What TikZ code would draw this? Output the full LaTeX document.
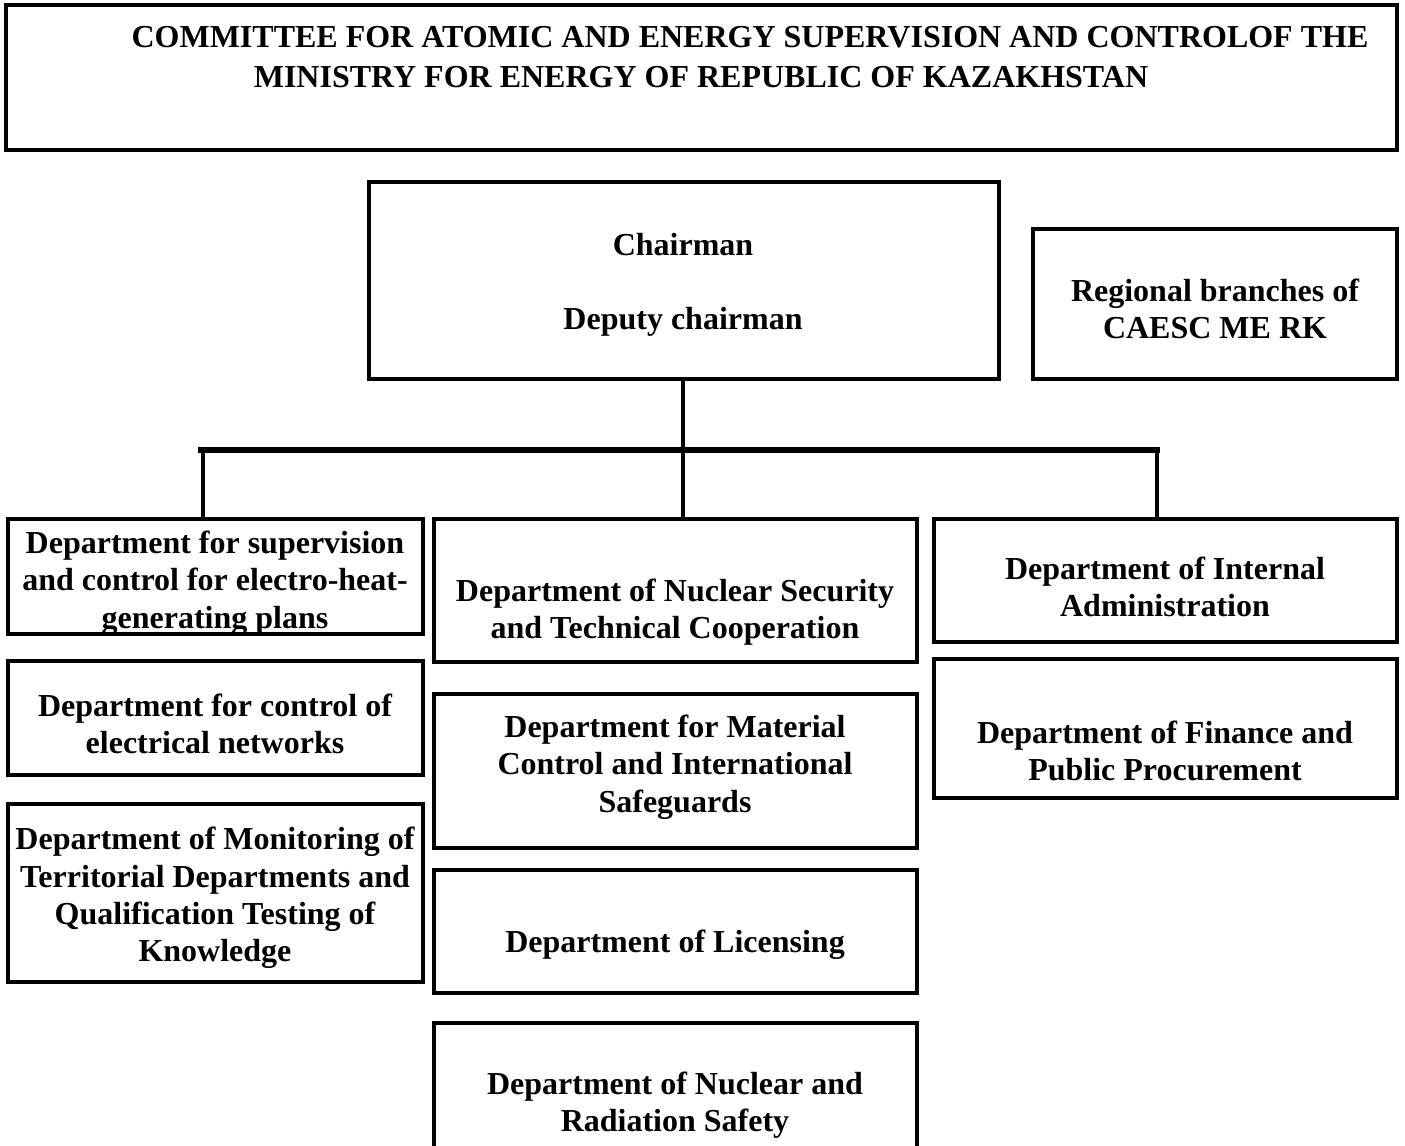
\documentclass[tikz,border=0pt]{standalone}
\usepackage{fontspec}
\setmainfont{Liberation Serif}
\usetikzlibrary{fit}
\begin{document}
\begin{tikzpicture}[x=0.75pt,y=-0.75pt,
  box/.style={draw, line width=3.6pt, inner sep=0pt, rectangle},
  lbl/.style={align=center, font=\bfseries\fontsize{24}{28}\selectfont, inner sep=0pt, yshift=-3pt},
  conn/.style={line width=3.6pt},
  bar/.style={line width=4.6pt}]
\useasboundingbox (0,0) rectangle (1405,1145);
\clip (0,0) rectangle (1405,1145);
% boxes
\node[box, fit={(6,5)(1397,150)}] (top) {};
\node[box, fit={(369,182)(999,379)}] (chair) {};
\node[box, fit={(1033,229)(1397,379)}] (reg) {};
\node[box, fit={(8,519)(423,634)}] (l1) {};
\node[box, fit={(8,661)(423,775)}] (l2) {};
\node[box, fit={(8,804)(423,982)}] (l3) {};
\node[box, fit={(434,519)(917,662)}] (m1) {};
\node[box, fit={(434,694)(917,848)}] (m2) {};
\node[box, fit={(434,870)(917,993)}] (m3) {};
\node[box, fit={(434,1023)(917,1160)}] (m4) {};
\node[box, fit={(934,519)(1397,642)}] (r1) {};
\node[box, fit={(934,659)(1397,798)}] (r2) {};
% texts
\node[lbl, yshift=3pt, font=\bfseries\fontsize{24}{30}\selectfont] (ttop) at (701,57)
  {\hspace*{73.5pt}COMMITTEE FOR ATOMIC AND ENERGY SUPERVISION AND CONTROLOF THE\\MINISTRY FOR ENERGY OF REPUBLIC OF KAZAKHSTAN};
\node[lbl] (tchair) at (683,281) {Chairman\\[28pt]Deputy chairman};
\node[lbl] (treg) at (1215,305) {Regional branches of\\CAESC ME RK};
\node[lbl] (tl1) at (215,579) {Department for supervision\\and control for electro-heat-\\generating plans};
\node[lbl] (tl2) at (215,720) {Department for control of\\electrical networks};
\node[lbl] (tl3) at (215,894) {Department of Monitoring of\\Territorial Departments and\\Qualification Testing of\\Knowledge};
\node[lbl] (tm1) at (675,608) {Department of Nuclear Security\\and Technical Cooperation};
\node[lbl] (tm2) at (675,763) {Department for Material\\Control and International\\Safeguards};
\node[lbl] (tm3) at (675,941) {Department of Licensing};
\node[lbl] (tm4) at (675,1101) {Department of Nuclear and\\Radiation Safety};
\node[lbl] (tr1) at (1165,583) {Department of Internal\\Administration};
\node[lbl] (tr2) at (1165,747) {Department of Finance and\\Public Procurement};
% connectors
\coordinate (barL) at (198,450);
\coordinate (barR) at (1160,450);
\coordinate (dropL) at (203,450);
\coordinate (dropR) at (1157,450);
\coordinate (dropM) at (683,450);
\draw[bar] (barL) -- (barR);
\draw[conn] (chair.south -| dropM) -- (dropM |- m1.north);
\draw[conn] (dropL) -- (dropL |- l1.north);
\draw[conn] (dropR) -- (dropR |- r1.north);
\end{tikzpicture}
\end{document}
